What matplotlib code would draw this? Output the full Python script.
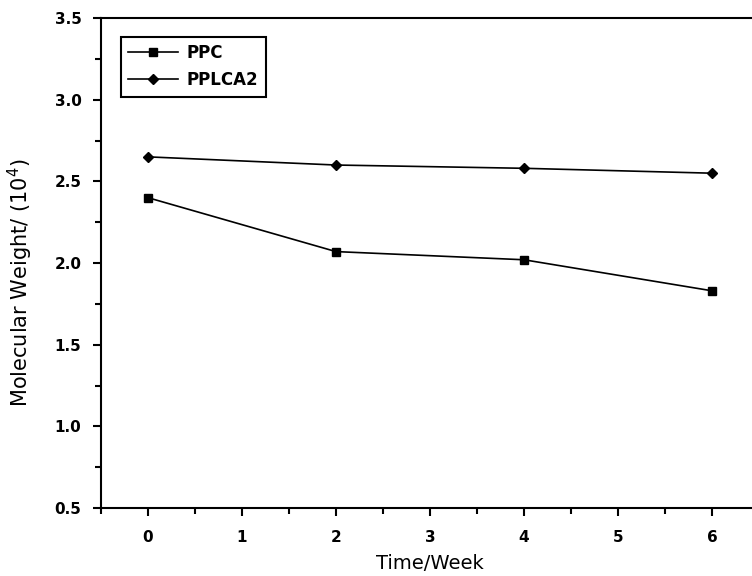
import matplotlib
matplotlib.use("Agg")
import matplotlib.pyplot as plt
from matplotlib.ticker import MultipleLocator

# Data
weeks = [0, 2, 4, 6]
ppc = [2.40, 2.07, 2.02, 1.83]
pplca2 = [2.65, 2.60, 2.58, 2.55]

fig = plt.figure(figsize=(7.52, 5.76), dpi=100)
# axes run past the right edge, as in the cropped original
ax = fig.add_axes([0.1343, 0.118, 0.875, 0.8507])

ax.plot(weeks, ppc, '-s', color='black', lw=1.2, ms=6, label='PPC')
ax.plot(weeks, pplca2, '-D', color='black', lw=1.2, ms=5, label='PPLCA2')

ax.set_xlim(-0.5, 6.5)
ax.set_ylim(0.5, 3.5)
ax.xaxis.set_major_locator(MultipleLocator(1))
ax.xaxis.set_minor_locator(MultipleLocator(0.5))
ax.yaxis.set_major_locator(MultipleLocator(0.5))
ax.yaxis.set_minor_locator(MultipleLocator(0.25))
ax.yaxis.set_major_formatter(plt.FormatStrFormatter('%.1f'))

ax.tick_params(which='both', direction='out', width=1.5, labelsize=11)
ax.tick_params(which='major', length=6)
ax.tick_params(which='minor', length=4)
ax.tick_params(axis='x', pad=10)
ax.tick_params(axis='y', pad=8)
for lab in ax.get_xticklabels() + ax.get_yticklabels():
    lab.set_fontweight('bold')

for s in ax.spines.values():
    s.set_linewidth(1.5)

ax.set_xlabel('Time/Week', fontsize=14, labelpad=6)
ax.set_ylabel('Molecular Weight/ (10$^4$)', fontsize=15)
ax.yaxis.set_label_coords(-0.1, 0.46)

leg = ax.legend(loc='upper left', bbox_to_anchor=(0.03, 0.962), fancybox=False,
                edgecolor='black', framealpha=1,
                prop={'weight': 'bold', 'size': 12}, handlelength=3.0,
                borderpad=0.45, labelspacing=0.55, handletextpad=0.5,
                borderaxespad=0)
leg.get_frame().set_linewidth(1.5)

fig.savefig('out.png', dpi=100)
